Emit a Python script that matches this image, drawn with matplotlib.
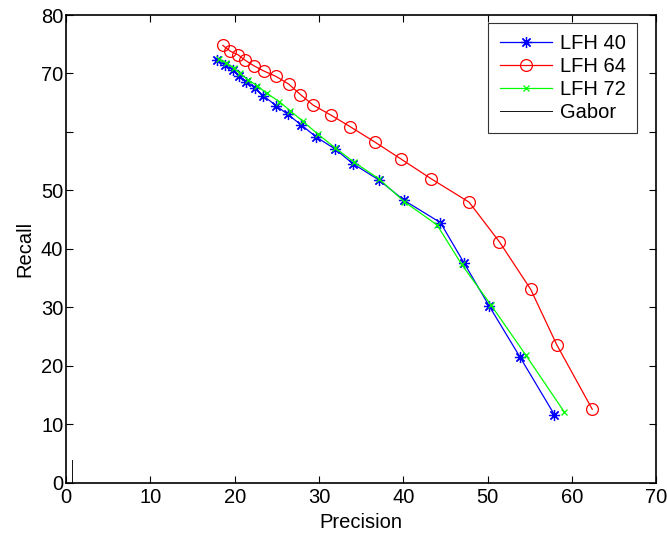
import numpy as np
import matplotlib
matplotlib.use('Agg')
import matplotlib.pyplot as plt

plt.rcParams['font.family'] = ['Liberation Sans', 'DejaVu Sans']

# LFH 40 (blue, asterisk)
lfh40_p = [17.9, 18.8, 19.8, 20.5, 21.4, 22.4, 23.4, 24.9, 26.3, 27.9,
           29.7, 31.9, 34.0, 37.1, 40.1, 44.4, 47.2, 50.2, 53.8, 57.9]
lfh40_r = [72.3, 71.5, 70.6, 69.6, 68.6, 67.5, 66.2, 64.5, 63.0, 61.2,
           59.1, 57.1, 54.6, 51.8, 48.3, 44.5, 37.6, 30.2, 21.6, 11.7]

# LFH 64 (red, circles)
lfh64_p = [18.6, 19.5, 20.4, 21.2, 22.3, 23.5, 24.9, 26.4, 27.8, 29.3,
           31.4, 33.7, 36.6, 39.7, 43.3, 47.8, 51.4, 55.1, 58.2, 62.4]
lfh64_r = [74.8, 73.8, 73.2, 72.3, 71.3, 70.4, 69.5, 68.2, 66.4, 64.6,
           62.9, 60.9, 58.3, 55.4, 52.0, 48.0, 41.2, 33.1, 23.6, 12.6]

# LFH 72 (green, x)
lfh72_p = [18.1, 19.0, 19.9, 20.6, 21.6, 22.7, 23.8, 25.3, 26.6, 28.1,
           29.9, 31.9, 34.2, 37.1, 40.1, 44.0, 46.9, 50.4, 54.5, 59.1]
lfh72_r = [72.5, 71.8, 70.9, 70.0, 68.9, 67.9, 66.6, 65.2, 63.6, 61.8,
           59.6, 57.3, 54.8, 52.0, 48.1, 44.1, 37.4, 30.4, 21.9, 12.1]

# Gabor (just a short stub near the origin)
gabor_p = [0.75, 0.75]
gabor_r = [0.0, 4.0]

xticks = [0, 10, 20, 30, 40, 50, 60, 70]
yticks = [0, 10, 20, 30, 40, 50, 60, 70, 80]
ytick_labels = ['0', '10', '20', '30', '40', '50', '', '70', '80']

fig = plt.figure(figsize=(6.67, 5.36), dpi=100)
ax = fig.add_axes([0.099, 0.099, 0.885, 0.873])

ax.plot(lfh40_p, lfh40_r, color='#0000ff', lw=0.9, marker=(8, 2, 0),
        markersize=8, markeredgewidth=0.9, label='LFH 40')
ax.plot(lfh64_p, lfh64_r, color='#ff0000', lw=0.9, marker='o',
        markersize=8.5, markerfacecolor='none', markeredgewidth=0.9, label='LFH 64')
ax.plot(lfh72_p, lfh72_r, color='#00ff00', lw=0.9, marker='x',
        markersize=4.5, markeredgewidth=0.9, label='LFH 72')
ax.plot(gabor_p, gabor_r, color='#111111', lw=0.7, label='Gabor')

ax.set_xlim(0, 70)
ax.set_ylim(0, 80)
ax.set_xticks(xticks)
ax.set_yticks(yticks)
ax.set_yticklabels(ytick_labels)
ax.tick_params(direction='in', top=True, right=True, labelsize=14.5,
               length=5, width=0.8)
ax.tick_params(axis='x', pad=4)
ax.tick_params(axis='y', pad=2)
for s in ax.spines.values():
    s.set_linewidth(1.2)

ax.set_xlabel('Precision', fontsize=14.5, labelpad=4)
ax.set_ylabel('Recall', fontsize=14.5, labelpad=5)

leg = ax.legend(loc='upper right', bbox_to_anchor=(637 / 667, 1 - 23 / 536),
                bbox_transform=fig.transFigure, fontsize=14.5, numpoints=1,
                fancybox=False, edgecolor='#333333', framealpha=1,
                borderpad=0.55, handlelength=2.6, handletextpad=0.4,
                labelspacing=0.2, borderaxespad=0)
leg.get_frame().set_linewidth(0.8)

fig.savefig('out.png', dpi=100)
